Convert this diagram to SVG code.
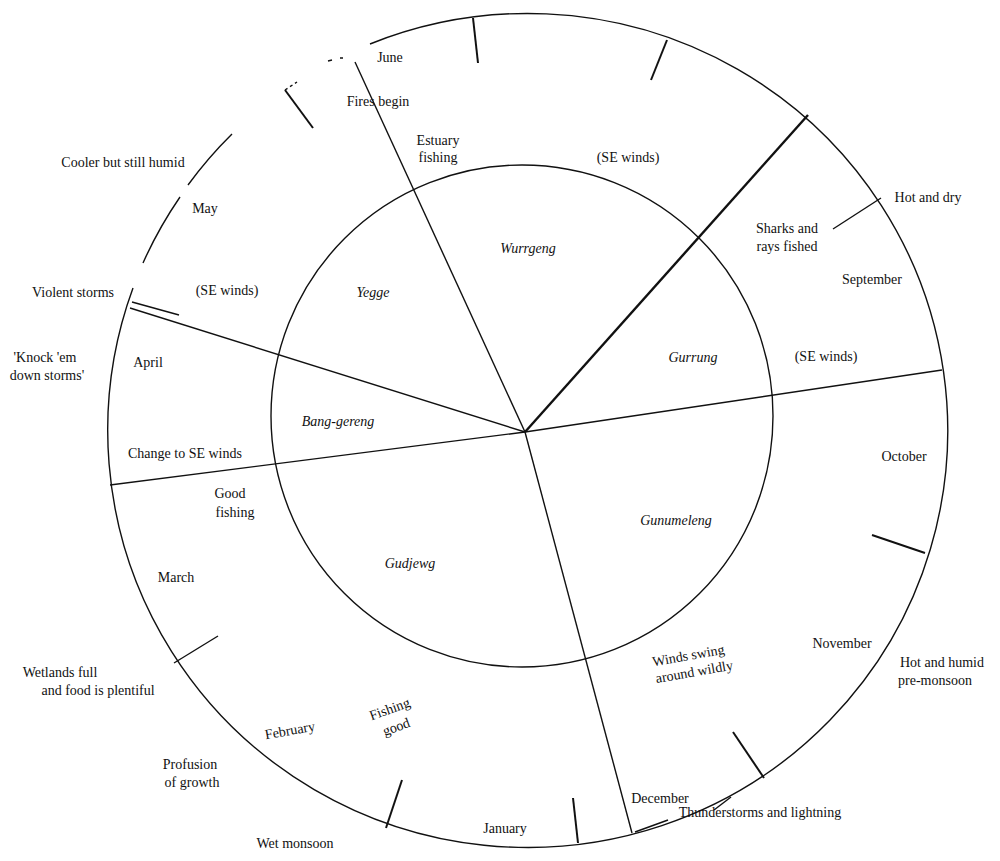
<svg xmlns="http://www.w3.org/2000/svg" width="1000" height="861" viewBox="0 0 1000 861">
<style>
text{font-family:"Liberation Serif","Times New Roman",serif;font-size:14px;fill:#111;text-anchor:middle}
.i{font-style:italic}
.l{stroke:#111;fill:none;stroke-width:1.4}
</style>
<rect width="1000" height="861" fill="#fff"/>
<g id="rings" class="l">
<circle cx="522" cy="416" r="251"/>
<path d="M370,44 A420,417 0 1,1 133,288"/>
<path d="M143,263 A420,417 0 0,1 180,197"/>
<path d="M188,185 A420,417 0 0,1 232,134"/>
<path d="M285,90 L297,82" stroke-dasharray="3,3"/>
<path d="M328,61 L332,60 M340,58 L343,58" />
</g>
<g id="connectors" class="l">
<line x1="525" y1="432" x2="355" y2="62"/>
<line x1="525" y1="432" x2="808" y2="115" stroke-width="2.4"/>
<line x1="525" y1="432" x2="942" y2="370"/>
<line x1="525" y1="432" x2="632" y2="833"/>
<line x1="525" y1="432" x2="110" y2="485"/>
<line x1="525" y1="432" x2="130" y2="308"/>
<line x1="132" y1="302" x2="179" y2="315"/>
<line x1="473" y1="18" x2="478" y2="63" stroke-width="2"/>
<line x1="667" y1="40" x2="651" y2="80" stroke-width="2"/>
<line x1="285" y1="90" x2="313" y2="128" stroke-width="2"/>
<line x1="881" y1="198" x2="833" y2="229"/>
<line x1="872" y1="535" x2="925" y2="553" stroke-width="2"/>
<line x1="733" y1="732" x2="764" y2="778" stroke-width="2"/>
<line x1="573" y1="798" x2="578" y2="843" stroke-width="2"/>
<line x1="402" y1="780" x2="386" y2="828" stroke-width="2"/>
<line x1="174" y1="663" x2="218" y2="636"/>
<line x1="635" y1="832" x2="668" y2="820"/>
<line x1="714" y1="810" x2="731" y2="797"/>
</g>
<g id="labels">
<text x="390" y="62">June</text>
<text x="378" y="106">Fires begin</text>
<text x="438" y="145">Estuary</text>
<text x="438" y="162">fishing</text>
<text x="628" y="162">(SE winds)</text>
<text class="i" x="528" y="253">Wurrgeng</text>
<text class="i" x="373" y="297">Yegge</text>
<text x="123" y="167">Cooler but still humid</text>
<text x="205" y="213">May</text>
<text x="227" y="295">(SE winds)</text>
<text x="73" y="297">Violent storms</text>
<text x="45" y="362">'Knock 'em</text>
<text x="47" y="380">down storms'</text>
<text x="148" y="367">April</text>
<text class="i" x="338" y="426">Bang-gereng</text>
<text x="185" y="458">Change to SE winds</text>
<text x="230" y="498">Good</text>
<text x="235" y="517">fishing</text>
<text x="176" y="582">March</text>
<text class="i" x="410" y="568">Gudjewg</text>
<text x="60" y="677">Wetlands full</text>
<text x="98" y="695">and food is plentiful</text>
<text x="290" y="735" transform="rotate(-10 290 731)">February</text>
<text x="393" y="713" transform="rotate(-20 393 718)">Fishing</text>
<text x="393" y="732" transform="rotate(-20 393 718)">good</text>
<text x="190" y="769">Profusion</text>
<text x="192" y="787">of growth</text>
<text x="295" y="848">Wet monsoon</text>
<text x="505" y="833">January</text>
<text x="660" y="803">December</text>
<text x="760" y="817">Thunderstorms and lightning</text>
<text x="690" y="660" transform="rotate(-10 690 665)">Winds swing</text>
<text x="693" y="677" transform="rotate(-10 690 665)">around wildly</text>
<text x="842" y="648">November</text>
<text x="942" y="667">Hot and humid</text>
<text x="935" y="685">pre-monsoon</text>
<text x="904" y="461">October</text>
<text class="i" x="676" y="525">Gunumeleng</text>
<text class="i" x="693" y="362">Gurrung</text>
<text x="826" y="361">(SE winds)</text>
<text x="787" y="233">Sharks and</text>
<text x="787" y="251">rays fished</text>
<text x="872" y="284">September</text>
<text x="928" y="202">Hot and dry</text>
</g>
</svg>
